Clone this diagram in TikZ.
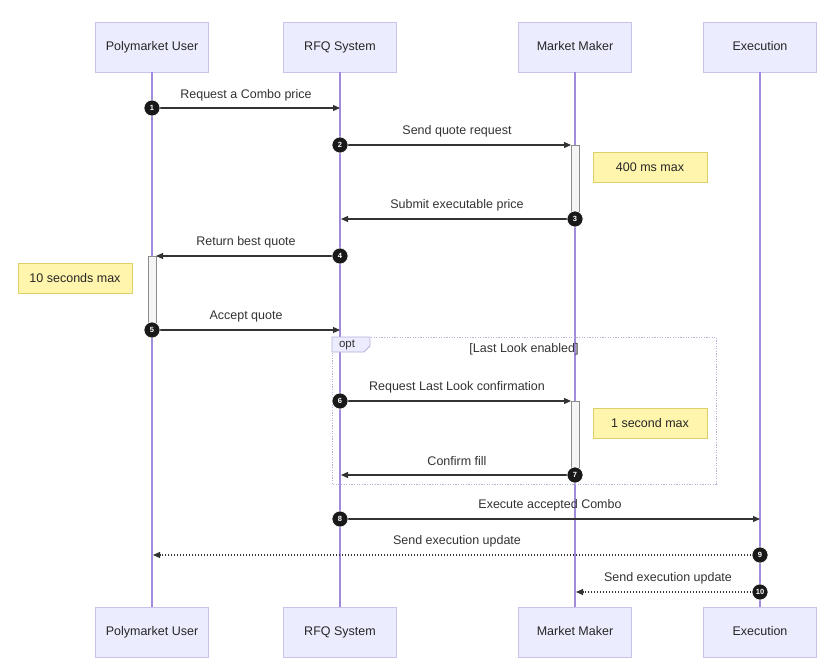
\documentclass[tikz,border=0pt]{standalone}
\usepackage{fontspec}
\setmainfont{Liberation Sans}
\usetikzlibrary{arrows.meta}
\definecolor{actfill}{HTML}{ECECFF}
\definecolor{actdraw}{HTML}{C9C2EA}
\definecolor{lifecol}{HTML}{A08CDA}
\definecolor{notefill}{HTML}{FFF5AD}
\definecolor{notedraw}{HTML}{DDCF6A}
\definecolor{msgcol}{HTML}{333333}
\definecolor{optdraw}{HTML}{B8B0DC}
\tikzset{
  actor/.style={draw=actdraw, fill=actfill, line width=0.8pt, minimum width=113pt, minimum height=50pt, font=\fontsize{12.5}{14}\selectfont, text=black!85, text height=9pt, text depth=2.5pt},
  lifeline/.style={draw=lifecol, line width=1.2pt},
  notebox/.style={draw=notedraw, fill=notefill, line width=0.8pt, minimum width=114pt, minimum height=30pt, font=\fontsize{12.5}{14}\selectfont, text=black!85},
  actbox/.style={draw=black!45, fill=black!4, line width=0.6pt},
  msg/.style={draw=msgcol, line width=1.1pt, -{Triangle[length=7pt,width=6pt]}},
  dmsg/.style={msg, dash pattern=on 1.2pt off 1.8pt},
  num/.style={circle, fill=black!90, draw=white, line width=0.6pt, text=white, inner sep=0pt, minimum size=16pt, font=\fontsize{7.5}{8}\selectfont\bfseries},
  lbl/.style={font=\fontsize{12.5}{14}\selectfont, text=black!80, inner sep=0pt},
}
\begin{document}
\begin{tikzpicture}[x=1pt,y=-1pt]
\useasboundingbox (0,0) rectangle (836,672);
\fill[white] (0,0) rectangle (836,672);
% actors top
\node[actor] (u) at (152,47) {Polymarket User};
\node[actor] (r) at (340,47) {RFQ System};
\node[actor] (m) at (575,47) {Market Maker};
\node[actor] (e) at (760,47) {Execution};
% actors bottom
\node[actor] (ub) at (152,632) {Polymarket User};
\node[actor] (rb) at (340,632) {RFQ System};
\node[actor] (mb) at (575,632) {Market Maker};
\node[actor] (eb) at (760,632) {Execution};
% lifelines
\draw[lifeline] (u) -- (ub);
\draw[lifeline] (r) -- (rb);
\draw[lifeline] (m) -- (mb);
\draw[lifeline] (e) -- (eb);
% opt frame
\draw[optdraw, line width=1pt, dash pattern=on 1.2pt off 1.4pt] (332,337) rectangle (716,484);
\draw[optdraw, fill=actfill, line width=0.8pt] (332,337) -- (370,337) -- (370,346) -- (364,352) -- (332,352) -- cycle;
\node[lbl, font=\fontsize{11.5}{13}\selectfont] (optl) at (347,345) {opt};
\node[lbl] (cond) at (524,349) {[Last Look enabled]};
% activations
\draw[actbox] (571,145) rectangle (579,219);
\draw[actbox] (148,256) rectangle (156,330);
\draw[actbox] (571,401) rectangle (579,475);
% notes
\node[notebox] (n400) at (650,167) {400 ms max};
\node[notebox] (n10) at (75,278) {10 seconds max};
\node[notebox] (n1s) at (650,423) {1 second max};
% message endpoints
\coordinate (e1) at (340,108);
\coordinate (e2) at (571,145);
\coordinate (e3) at (341,219);
\coordinate (e4) at (156,256);
\coordinate (e5) at (340,330);
\coordinate (e6) at (571,401);
\coordinate (e7) at (341,475);
\coordinate (e8) at (760,519);
\coordinate (e9) at (153,555);
\coordinate (e10) at (576,592);
% circle anchors
\coordinate (c1) at (152,108);
\coordinate (c2) at (340,145);
\coordinate (c3) at (575,219);
\coordinate (c4) at (340,256);
\coordinate (c5) at (152,330);
\coordinate (c6) at (340,401);
\coordinate (c7) at (575,475);
\coordinate (c8) at (340,519);
\coordinate (c9) at (760,555);
\coordinate (c10) at (760,592);
% messages
\draw[msg] (c1) -- (e1);
\draw[msg] (c2) -- (e2);
\draw[msg] (c3) -- (e3);
\draw[msg] (c4) -- (e4);
\draw[msg] (c5) -- (e5);
\draw[msg] (c6) -- (e6);
\draw[msg] (c7) -- (e7);
\draw[msg] (c8) -- (e8);
\draw[dmsg] (c9) -- (e9);
\draw[dmsg] (c10) -- (e10);
% number circles
\node[num] (k1) at (c1) {1};
\node[num] (k2) at (c2) {2};
\node[num] (k3) at (c3) {3};
\node[num] (k4) at (c4) {4};
\node[num] (k5) at (c5) {5};
\node[num] (k6) at (c6) {6};
\node[num] (k7) at (c7) {7};
\node[num] (k8) at (c8) {8};
\node[num] (k9) at (c9) {9};
\node[num] (k10) at (c10) {10};
% labels
\node[lbl] (l1) at (246,95) {Request a Combo price};
\node[lbl] (l2) at (457,131) {Send quote request};
\node[lbl] (l3) at (457,205) {Submit executable price};
\node[lbl] (l4) at (246,242) {Return best quote};
\node[lbl] (l5) at (246,316) {Accept quote};
\node[lbl] (l6) at (457,387) {Request Last Look confirmation};
\node[lbl] (l7) at (457,461) {Confirm fill};
\node[lbl] (l8) at (550,505) {Execute accepted Combo};
\node[lbl] (l9) at (457,541) {Send execution update};
\node[lbl] (l10) at (668,578) {Send execution update};
\end{tikzpicture}
\end{document}
